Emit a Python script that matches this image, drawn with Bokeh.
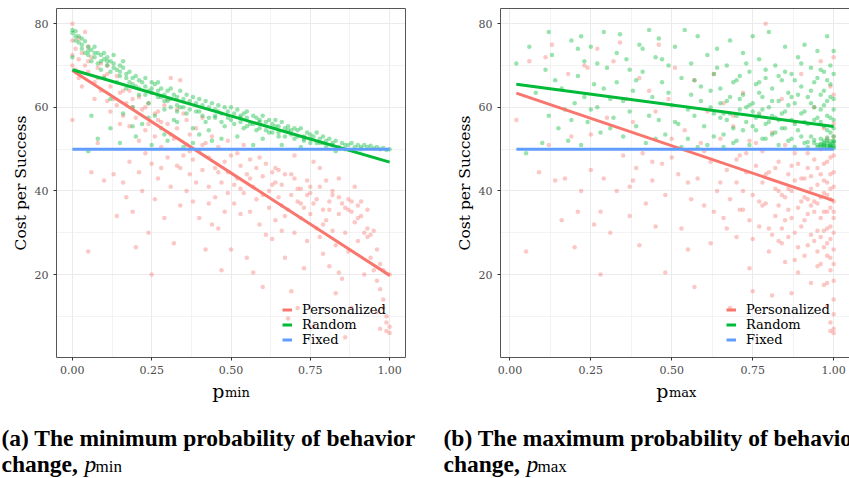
from bokeh.plotting import figure
from bokeh.models import (Range1d, FixedTicker, NumeralTickFormatter, Legend,
                          LegendItem, Label, LinearAxis)
from bokeh.layouts import column, row
from bokeh.embed import file_html
from bokeh.resources import INLINE

# ---------------- data ----------------
series_names = ["Personalized", "Random", "Fixed"]
x_ticks = [0.0, 0.25, 0.5, 0.75, 1.0]
x_minor = [0.125, 0.375, 0.625, 0.875]
y_ticks = [20, 40, 60, 80]
y_minor = [10, 30, 50, 70]

# panel (a): p_min
pmin_rand_x = [
    0.00, 0.00, 0.01, 0.01, 0.00, 0.02, 0.02, 0.03, 0.03, 0.04,
    0.04, 0.05, 0.05, 0.05, 0.06, 0.06, 0.07, 0.07, 0.08, 0.08,
    0.09, 0.09, 0.10, 0.10, 0.10, 0.11, 0.11, 0.12, 0.12, 0.13,
    0.13, 0.14, 0.14, 0.15, 0.15, 0.16, 0.16, 0.17, 0.17, 0.18,
    0.18, 0.19, 0.19, 0.20, 0.20, 0.21, 0.21, 0.22, 0.22, 0.23,
    0.23, 0.24, 0.24, 0.25, 0.25, 0.26, 0.26, 0.27, 0.27, 0.28,
    0.28, 0.29, 0.29, 0.30, 0.30, 0.31, 0.31, 0.32, 0.32, 0.33,
    0.34, 0.34, 0.35, 0.36, 0.36, 0.37, 0.38, 0.38, 0.39, 0.40,
    0.40, 0.41, 0.42, 0.42, 0.43, 0.44, 0.45, 0.45, 0.46, 0.47,
    0.48, 0.48, 0.49, 0.50, 0.50, 0.51, 0.52, 0.53, 0.54, 0.55,
    0.55, 0.56, 0.57, 0.58, 0.58, 0.59, 0.60, 0.61, 0.62, 0.62,
    0.63, 0.64, 0.65, 0.65, 0.66, 0.67, 0.68, 0.69, 0.70, 0.70,
    0.71, 0.72, 0.73, 0.74, 0.75, 0.75, 0.76, 0.77, 0.78, 0.79,
    0.80, 0.80, 0.81, 0.82, 0.83, 0.84, 0.85, 0.86, 0.87, 0.88,
    0.89, 0.90, 0.91, 0.92, 0.93, 0.94, 0.95, 0.96, 0.97, 0.98,
    0.99, 1.00, 0.06, 0.08, 0.12, 0.15, 0.20, 0.25, 0.30, 0.35,
    0.28, 0.33, 0.40, 0.44, 0.52, 0.57, 0.60, 0.66, 0.72, 0.83,
    0.46, 0.53, 0.59, 0.64, 0.68, 0.73, 0.78, 0.82, 0.86, 0.91,
    0.01, 0.03, 0.05, 0.07, 0.09, 0.11, 0.13, 0.15, 0.17, 0.19,
    0.21, 0.23, 0.25, 0.27, 0.29, 0.31, 0.33, 0.35, 0.37, 0.39,
    0.41, 0.43, 0.45, 0.47, 0.49, 0.51, 0.53, 0.55, 0.57, 0.59,
    0.61, 0.63, 0.65, 0.67, 0.69, 0.71, 0.73, 0.75, 0.77, 0.79,
    0.12, 0.16, 0.19, 0.24, 0.29, 0.33, 0.38, 0.43, 0.47, 0.54,
]
pmin_rand_y = [
    78.5, 77.8, 78.2, 76.0, 72.0, 75.5, 77.0, 74.0, 76.5, 73.0,
    75.8, 74.5, 72.5, 49.5, 73.8, 71.0, 74.5, 72.0, 73.0, 70.5,
    72.5, 69.0, 73.0, 71.5, 67.0, 72.0, 70.0, 71.0, 68.5, 70.5,
    72.5, 69.0, 66.0, 70.0, 67.5, 69.5, 71.0, 68.0, 64.5, 68.5,
    66.0, 67.0, 60.0, 67.5, 65.0, 66.5, 63.0, 66.0, 56.0, 65.0,
    67.0, 64.0, 61.0, 66.0, 63.5, 65.5, 58.0, 64.0, 66.0, 62.5,
    64.5, 63.0, 59.5, 64.0, 61.5, 62.0, 64.5, 63.0, 57.0, 62.5,
    64.0, 60.0, 62.0, 63.0, 58.5, 61.5, 62.5, 55.0, 61.0, 62.0,
    59.0, 60.5, 61.5, 56.5, 60.0, 61.0, 59.5, 57.5, 60.5, 58.5,
    60.0, 55.5, 59.0, 60.0, 57.0, 58.5, 59.5, 56.5, 58.5, 57.5,
    59.0, 56.0, 58.0, 57.5, 54.5, 56.5, 58.0, 56.5, 57.0, 54.0,
    56.0, 57.0, 55.5, 53.0, 56.5, 55.0, 55.5, 53.5, 55.0, 52.5,
    54.5, 55.0, 53.0, 54.0, 53.5, 51.5, 53.0, 54.0, 52.5, 53.0,
    52.0, 50.5, 52.5, 51.5, 52.0, 50.5, 51.5, 50.0, 51.0, 51.5,
    50.5, 51.0, 50.0, 51.0, 50.5, 50.8, 50.2, 50.5, 50.0, 50.3,
    49.8, 50.0, 58.0, 52.5, 55.0, 51.5, 53.0, 51.0, 52.0, 50.5,
    55.0, 56.5, 53.5, 52.0, 53.0, 51.0, 52.5, 51.0, 50.5, 49.5,
    59.0, 58.0, 57.0, 55.5, 54.5, 52.5, 51.5, 51.0, 51.0, 50.5,
    77.0, 75.0, 73.5, 73.0, 71.0, 71.0, 69.5, 68.5, 67.0, 65.5,
    64.5, 63.0, 64.5, 62.5, 61.5, 60.0, 60.5, 60.0, 59.5, 59.0,
    58.0, 57.5, 58.0, 56.5, 57.5, 56.0, 57.5, 55.5, 56.0, 55.0,
    54.5, 54.0, 54.0, 53.0, 54.5, 53.0, 52.0, 52.5, 51.5, 51.5,
    62.0, 58.5, 55.5, 57.5, 53.5, 59.0, 51.5, 54.5, 52.5, 55.0,
]
pmin_pers_x = [
    0.00, 0.00, 0.00, 0.00, 0.00, 0.01, 0.01, 0.02, 0.02, 0.03,
    0.03, 0.04, 0.05, 0.05, 0.06, 0.06, 0.07, 0.07, 0.08, 0.08,
    0.09, 0.10, 0.10, 0.11, 0.12, 0.12, 0.13, 0.13, 0.14, 0.14,
    0.15, 0.15, 0.16, 0.16, 0.17, 0.17, 0.18, 0.18, 0.19, 0.19,
    0.20, 0.20, 0.21, 0.21, 0.22, 0.22, 0.23, 0.23, 0.24, 0.24,
    0.25, 0.25, 0.26, 0.26, 0.27, 0.27, 0.28, 0.28, 0.29, 0.29,
    0.30, 0.30, 0.31, 0.31, 0.32, 0.32, 0.33, 0.33, 0.34, 0.34,
    0.35, 0.35, 0.36, 0.36, 0.37, 0.37, 0.38, 0.38, 0.39, 0.39,
    0.40, 0.40, 0.41, 0.41, 0.42, 0.42, 0.43, 0.43, 0.44, 0.44,
    0.45, 0.45, 0.46, 0.46, 0.47, 0.47, 0.48, 0.48, 0.49, 0.49,
    0.50, 0.50, 0.51, 0.51, 0.52, 0.52, 0.53, 0.53, 0.54, 0.54,
    0.55, 0.55, 0.56, 0.56, 0.57, 0.57, 0.58, 0.58, 0.59, 0.59,
    0.60, 0.60, 0.61, 0.61, 0.62, 0.62, 0.63, 0.63, 0.64, 0.64,
    0.65, 0.65, 0.66, 0.66, 0.67, 0.67, 0.68, 0.68, 0.69, 0.69,
    0.70, 0.70, 0.71, 0.71, 0.72, 0.72, 0.73, 0.73, 0.74, 0.74,
    0.75, 0.75, 0.76, 0.76, 0.77, 0.77, 0.78, 0.78, 0.79, 0.79,
    0.80, 0.80, 0.81, 0.81, 0.82, 0.82, 0.83, 0.83, 0.84, 0.84,
    0.85, 0.85, 0.86, 0.86, 0.87, 0.87, 0.88, 0.88, 0.89, 0.89,
    0.90, 0.90, 0.91, 0.91, 0.92, 0.92, 0.93, 0.93, 0.94, 0.94,
    0.95, 0.95, 0.96, 0.96, 0.97, 0.97, 0.98, 0.98, 0.99, 0.99,
    1.00, 1.00, 0.99, 1.00, 0.98, 0.97, 0.96, 0.84, 0.76, 0.70,
    0.02, 0.04, 0.05, 0.09, 0.11, 0.14, 0.18, 0.21, 0.24, 0.27,
    0.60, 0.63, 0.66, 0.69, 0.72, 0.75, 0.78, 0.81, 0.84, 0.87,
    0.90, 0.93, 0.88, 0.86, 0.82, 0.79, 0.74, 0.71, 0.67, 0.64,
    0.53, 0.56, 0.49, 0.46, 0.43, 0.41, 0.37, 0.34, 0.31, 0.28,
    0.05, 0.08, 0.11, 0.16, 0.19, 0.23, 0.26, 0.30, 0.33, 0.36,
]
pmin_pers_y = [
    80.0, 76.0, 72.5, 70.0, 57.0, 74.0, 69.0, 71.5, 67.0, 73.0,
    65.0, 70.0, 68.5, 25.5, 72.0, 44.5, 66.0, 62.0, 69.5, 51.5,
    64.0, 67.5, 42.5, 61.5, 65.0, 59.0, 62.0, 44.0, 60.5, 34.0,
    63.5, 56.0, 58.0, 42.0, 61.0, 38.5, 55.5, 47.0, 60.0, 35.0,
    57.5, 26.5, 52.0, 44.5, 59.5, 40.0, 54.5, 49.0, 56.0, 30.0,
    20.0, 46.5, 53.0, 38.0, 57.0, 43.0, 50.5, 45.5, 60.5, 33.5,
    62.0, 48.0, 67.0, 41.0, 52.5, 27.5, 55.0, 46.0, 66.5, 36.5,
    58.5, 48.5, 40.0, 51.0, 44.0, 53.5, 47.5, 37.5, 55.0, 42.0,
    49.5, 33.5, 57.5, 45.0, 51.5, 26.0, 41.0, 48.0, 32.0, 53.0,
    45.5, 38.5, 31.0, 50.5, 42.0, 21.0, 47.0, 35.0, 52.0, 44.5,
    26.0, 48.5, 41.5, 37.0, 49.0, 43.0, 34.5, 46.0, 39.5, 51.0,
    24.0, 44.0, 35.0, 47.5, 20.5, 41.0, 38.0, 45.5, 32.0, 48.0,
    43.5, 17.0, 29.5, 46.5, 40.0, 36.0, 44.5, 28.5, 42.0, 33.0,
    45.0, 38.5, 30.5, 41.5, 24.0, 44.0, 35.5, 9.5, 39.0, 16.0,
    43.0, 30.0, 37.5, 12.0, 40.5, 33.5, 36.0, 21.5, 39.0, 28.0,
    41.0, 34.5, 37.0, 7.5, 31.0, 38.0, 29.0, 45.5, 35.5, 25.0,
    42.5, 33.0, 22.0, 37.5, 30.5, 40.0, 15.5, 27.0, 34.5, 20.5,
    37.0, 19.0, 30.0, 5.0, 38.0, 25.5, 35.0, 12.0, 41.0, 32.5,
    36.5, 28.0, 37.5, 34.0, 30.0, 20.0, 31.0, 35.5, 29.5, 24.0,
    30.5, 21.0, 26.0, 18.5, 22.5, 16.5, 14.0, 21.0, 8.5, 6.5,
    7.5, 6.0, 10.0, 20.0, 12.0, 7.0, 11.0, 43.0, 47.0, 48.5,
    76.5, 78.0, 71.0, 70.5, 68.0, 67.5, 64.0, 62.5, 61.0, 59.0,
    39.0, 41.5, 36.5, 44.0, 37.0, 39.5, 41.0, 35.5, 38.5, 35.5,
    33.5, 29.0, 37.5, 36.0, 39.0, 32.0, 42.5, 40.5, 34.0, 45.5,
    40.5, 43.0, 39.5, 44.5, 37.0, 51.0, 49.5, 45.5, 53.5, 56.5,
    74.5, 67.0, 70.0, 64.0, 62.0, 60.0, 58.5, 56.0, 59.5, 57.0,
]
pmin_fit_x = [0.0, 1.0]
pmin_pers_fit = [68.8, 19.8]
pmin_rand_fit = [69.0, 46.9]
pmin_fixed_fit = [50.0, 50.0]

# panel (b): p_max
pmax_rand_x = [
    0.02, 0.05, 0.06, 0.08, 0.10, 0.11, 0.12, 0.12, 0.13, 0.15,
    0.16, 0.18, 0.19, 0.20, 0.21, 0.22, 0.22, 0.23, 0.24, 0.25,
    0.26, 0.27, 0.28, 0.29, 0.30, 0.31, 0.32, 0.33, 0.34, 0.35,
    0.36, 0.37, 0.38, 0.39, 0.40, 0.41, 0.42, 0.43, 0.44, 0.45,
    0.46, 0.46, 0.47, 0.48, 0.49, 0.50, 0.51, 0.52, 0.53, 0.54,
    0.55, 0.56, 0.56, 0.57, 0.58, 0.58, 0.59, 0.60, 0.61, 0.62,
    0.63, 0.63, 0.64, 0.65, 0.65, 0.66, 0.67, 0.67, 0.68, 0.69,
    0.70, 0.70, 0.71, 0.72, 0.72, 0.73, 0.74, 0.74, 0.75, 0.75,
    0.76, 0.76, 0.77, 0.77, 0.78, 0.78, 0.79, 0.79, 0.80, 0.80,
    0.81, 0.81, 0.82, 0.82, 0.83, 0.83, 0.84, 0.84, 0.85, 0.85,
    0.86, 0.86, 0.87, 0.87, 0.88, 0.88, 0.89, 0.89, 0.90, 0.90,
    0.91, 0.91, 0.92, 0.92, 0.93, 0.93, 0.94, 0.94, 0.95, 0.95,
    0.95, 0.96, 0.96, 0.96, 0.97, 0.97, 0.97, 0.98, 0.98, 0.98,
    0.98, 0.99, 0.99, 0.99, 0.99, 1.00, 1.00, 1.00, 1.00, 1.00,
    1.00, 1.00, 0.99, 0.97, 0.96, 0.94, 0.92, 0.90, 0.88, 0.86,
    0.84, 0.82, 0.80, 0.78, 0.76, 0.74, 0.72, 0.70, 0.68, 0.66,
    0.95, 0.96, 0.97, 0.98, 0.99, 1.00, 1.00, 0.99, 0.98, 0.97,
    0.62, 0.64, 0.66, 0.68, 0.69, 0.71, 0.73, 0.75, 0.77, 0.79,
    0.81, 0.83, 0.85, 0.87, 0.88, 0.90, 0.91, 0.93, 0.94, 0.96,
    0.97, 0.98, 0.99, 1.00, 1.00, 0.99, 0.98, 0.97, 0.96, 0.95,
    0.93, 0.91, 0.89, 0.87, 0.85, 0.83, 0.81, 0.79, 0.77, 0.75,
    0.73, 0.71, 0.69, 0.67, 0.65, 0.63, 0.61, 0.59, 0.57, 0.55,
    0.53, 0.51, 0.49, 0.47, 0.45, 0.43, 0.41, 0.39, 0.37, 0.35,
    0.33, 0.31, 0.29, 0.27, 0.25, 0.23, 0.21, 0.19, 0.17, 0.14,
    0.97, 0.98, 0.99, 1.00, 0.96, 0.98, 0.99, 1.00, 0.94, 0.92,
]
pmax_rand_y = [
    70.5, 49.0, 74.5, 63.5, 51.5, 69.0, 78.0, 58.0, 72.5, 55.0,
    64.5, 52.0, 76.0, 61.0, 67.5, 51.0, 77.0, 71.0, 56.5, 74.5,
    65.5, 60.0, 54.0, 78.0, 69.5, 62.0, 57.5, 66.0, 77.5, 53.0,
    71.5, 59.0, 64.0, 55.5, 75.0, 68.5, 51.5, 78.5, 62.5, 72.0,
    57.0, 76.5, 66.0, 53.5, 70.0, 60.5, 74.5, 56.0, 67.0, 78.5,
    52.5, 63.0, 70.5, 58.0, 77.0, 50.5, 65.0, 55.5, 72.5, 60.0,
    68.0, 53.0, 74.0, 57.5, 64.5, 50.5, 70.0, 61.5, 76.0, 55.0,
    66.5, 52.0, 59.5, 73.0, 63.0, 56.5, 68.5, 51.0, 61.0, 77.0,
    54.5, 65.5, 58.5, 71.5, 52.5, 62.5, 67.0, 56.0, 78.0, 60.0,
    53.5, 64.5, 57.5, 70.0, 51.0, 61.5, 66.5, 55.0, 74.5, 59.0,
    63.5, 52.0, 68.0, 57.0, 50.5, 61.0, 72.0, 54.5, 65.0, 58.5,
    75.0, 51.5, 62.5, 56.0, 69.5, 53.0, 60.0, 66.0, 50.5, 57.5,
    73.5, 52.5, 63.0, 51.0, 68.5, 55.5, 50.5, 61.5, 52.0, 77.0,
    58.0, 51.0, 65.5, 54.0, 50.3, 62.0, 51.5, 57.0, 73.5, 50.5,
    53.0, 59.5, 70.0, 52.0, 56.5, 51.5, 50.5, 53.0, 56.0, 60.5,
    58.5, 54.0, 56.5, 59.5, 57.5, 60.5, 54.5, 58.0, 62.5, 58.5,
    51.0, 50.5, 51.5, 50.8, 51.2, 50.2, 52.0, 50.7, 51.5, 50.9,
    64.0, 69.5, 53.5, 58.5, 66.0, 62.0, 70.5, 55.5, 63.5, 69.0,
    58.0, 67.5, 55.0, 62.5, 66.5, 70.5, 59.0, 64.0, 57.0, 69.0,
    60.5, 66.5, 57.5, 68.0, 55.0, 62.5, 54.5, 64.0, 59.5, 67.0,
    61.0, 56.5, 63.0, 52.5, 68.5, 57.0, 61.5, 52.5, 66.0, 59.0,
    60.0, 67.5, 51.5, 57.0, 61.0, 58.5, 51.0, 61.5, 66.5, 59.5,
    50.5, 56.5, 63.5, 71.5, 52.5, 58.0, 74.0, 66.5, 69.0, 61.5,
    73.0, 55.0, 64.5, 70.5, 59.5, 62.5, 74.0, 57.0, 59.5, 66.5,
    51.0, 50.4, 50.6, 51.8, 51.3, 52.8, 51.9, 50.8, 52.2, 51.7,
]
pmax_pers_x = [
    0.02, 0.05, 0.06, 0.09, 0.11, 0.12, 0.13, 0.14, 0.16, 0.17,
    0.18, 0.19, 0.20, 0.21, 0.22, 0.23, 0.24, 0.25, 0.25, 0.26,
    0.27, 0.28, 0.28, 0.29, 0.30, 0.31, 0.32, 0.33, 0.34, 0.35,
    0.36, 0.37, 0.37, 0.38, 0.39, 0.40, 0.40, 0.41, 0.42, 0.43,
    0.44, 0.45, 0.45, 0.46, 0.47, 0.48, 0.48, 0.49, 0.50, 0.51,
    0.52, 0.53, 0.54, 0.55, 0.56, 0.57, 0.57, 0.58, 0.59, 0.60,
    0.61, 0.62, 0.62, 0.63, 0.64, 0.65, 0.66, 0.66, 0.67, 0.68,
    0.68, 0.69, 0.70, 0.70, 0.71, 0.72, 0.72, 0.73, 0.74, 0.74,
    0.75, 0.75, 0.76, 0.77, 0.77, 0.78, 0.78, 0.79, 0.79, 0.80,
    0.80, 0.81, 0.81, 0.82, 0.82, 0.83, 0.83, 0.84, 0.84, 0.85,
    0.85, 0.86, 0.86, 0.87, 0.87, 0.88, 0.88, 0.89, 0.89, 0.90,
    0.90, 0.91, 0.91, 0.92, 0.92, 0.93, 0.93, 0.94, 0.94, 0.95,
    0.95, 0.95, 0.96, 0.96, 0.96, 0.97, 0.97, 0.97, 0.97, 0.98,
    0.98, 0.98, 0.98, 0.98, 0.99, 0.99, 0.99, 0.99, 0.99, 0.99,
    1.00, 1.00, 1.00, 1.00, 1.00, 1.00, 1.00, 1.00, 1.00, 1.00,
    1.00, 1.00, 0.99, 0.99, 0.98, 0.97, 0.96, 0.95, 0.94, 0.93,
    0.92, 0.91, 0.90, 0.89, 0.88, 0.87, 0.86, 0.85, 0.84, 0.83,
    0.70, 0.72, 0.74, 0.76, 0.78, 0.80, 0.82, 0.84, 0.86, 0.88,
    0.90, 0.92, 0.94, 0.96, 0.98, 1.00, 0.99, 0.97, 0.95, 0.93,
    0.91, 0.89, 0.87, 0.85, 0.83, 0.81, 0.79, 0.77, 0.75, 0.73,
    0.98, 0.99, 1.00, 1.00, 0.97, 0.96, 0.99, 1.00, 0.98, 0.95,
    0.60, 0.63, 0.65, 0.67, 0.69, 0.71, 0.55, 0.50, 0.44, 0.38,
    0.92, 0.94, 0.96, 0.97, 0.98, 0.99, 1.00, 1.00, 0.93, 0.88,
]
pmax_pers_y = [
    57.0, 25.5, 71.0, 44.5, 72.0, 51.0, 75.0, 42.5, 33.0, 43.0,
    68.0, 53.0, 26.5, 35.0, 40.0, 70.0, 69.5, 45.0, 53.5, 32.0,
    74.0, 20.0, 35.0, 43.0, 57.5, 30.0, 71.0, 40.0, 75.5, 48.5,
    62.0, 34.0, 41.0, 56.5, 45.5, 67.0, 27.0, 49.0, 37.0, 64.0,
    42.5, 59.0, 31.5, 75.0, 46.5, 39.0, 20.5, 62.0, 48.0, 69.5,
    44.0, 31.0, 54.5, 26.0, 38.0, 17.0, 66.5, 43.0, 51.5, 36.5,
    59.0, 27.5, 47.0, 68.0, 40.0, 52.5, 33.5, 61.0, 45.0, 38.0,
    12.0, 55.5, 42.0, 29.0, 48.5, 63.5, 35.5, 44.5, 21.5, 52.0,
    39.0, 16.0, 46.0, 58.0, 31.5, 42.0, 49.5, 37.0, 80.0, 25.5,
    44.5, 54.0, 15.0, 40.5, 34.0, 47.0, 28.0, 62.0, 39.0, 23.0,
    51.0, 35.5, 44.0, 15.5, 40.0, 30.0, 56.5, 46.5, 20.5, 37.5,
    68.0, 33.0, 43.0, 27.0, 49.0, 18.0, 40.5, 35.0, 60.0, 30.5,
    45.5, 22.0, 38.5, 71.0, 29.0, 42.5, 17.5, 35.0, 55.0, 31.0,
    24.5, 47.0, 39.0, 12.5, 36.0, 28.5, 44.0, 21.0, 65.0, 8.5,
    7.0, 6.0, 33.5, 41.0, 26.0, 48.5, 18.5, 37.5, 56.0, 72.0,
    14.0, 30.0, 6.5, 40.5, 35.0, 26.5, 33.5, 37.0, 28.0, 36.5,
    38.0, 24.5, 31.5, 36.0, 42.5, 33.5, 29.0, 38.5, 31.0, 36.5,
    47.5, 40.0, 33.0, 51.5, 36.5, 31.0, 45.5, 27.5, 40.5, 23.5,
    43.0, 34.5, 47.5, 22.5, 42.0, 44.5, 31.5, 39.5, 25.5, 29.5,
    38.5, 26.5, 46.0, 33.0, 40.0, 29.5, 44.0, 37.5, 28.5, 49.0,
    18.0, 24.0, 22.5, 10.5, 30.5, 44.0, 38.0, 35.0, 27.5, 41.5,
    49.5, 35.0, 42.0, 31.0, 58.0, 35.5, 42.0, 52.5, 47.0, 42.5,
    45.5, 37.5, 50.0, 46.5, 52.5, 48.0, 53.0, 63.0, 43.5, 49.0,
]
pmax_fit_x = [0.02, 1.0]
pmax_pers_fit = [63.4, 37.7]
pmax_rand_fit = [65.5, 55.4]
pmax_fixed_fit = [50.0, 50.0]

# ---------------- style ----------------
RED, GREEN, BLUE = "#F8766D", "#00BA38", "#619CFF"
SERIF = "DejaVu Serif"
CAP = "Liberation Serif"
BORDER = "#555555"
GRID = "#EBEBEB"


def panel(width, b_left, b_right, xr, px, py, rx, ry, fx, fp, fr, ff,
          right_border):
    p = figure(width=width, height=378, x_range=Range1d(*xr),
               y_range=Range1d(0.15, 83.65), output_backend="svg",
               toolbar_location=None, min_border_left=b_left,
               min_border_right=b_right, min_border_top=8,
               min_border_bottom=21, outline_line_color=None,
               background_fill_color="white", border_fill_color="white")
    xt = FixedTicker(ticks=x_ticks, minor_ticks=x_minor)
    yt = FixedTicker(ticks=y_ticks, minor_ticks=y_minor)
    p.xaxis.ticker = xt
    p.yaxis.ticker = yt
    p.xgrid.ticker = xt
    p.ygrid.ticker = yt
    p.xaxis.formatter = NumeralTickFormatter(format="0.00")
    for g in (p.xgrid, p.ygrid):
        g.grid_line_color = GRID
        g.grid_line_width = 1
        g.minor_grid_line_color = GRID
        g.minor_grid_line_width = 0.6
    for ax in (p.xaxis, p.yaxis):
        ax.axis_line_color = BORDER
        ax.axis_line_width = 1
        ax.major_tick_line_color = "#333333"
        ax.major_tick_out = 3
        ax.major_tick_in = 0
        ax.minor_tick_line_color = None
        ax.major_label_text_font = SERIF
        ax.major_label_text_font_size = "11px"
        ax.major_label_text_color = "#4D4D4D"
        ax.major_label_standoff = 4
    p.yaxis.axis_label = "Cost per Success"
    p.yaxis.axis_label_text_font = SERIF
    p.yaxis.axis_label_text_font_size = "15.5px"
    p.yaxis.axis_label_text_font_style = "normal"
    p.yaxis.axis_label_text_color = "black"
    p.yaxis.axis_label_standoff = 2

    sides = ["above"] + (["right"] if right_border else [])
    for side in sides:
        b = LinearAxis(ticker=FixedTicker(ticks=[]), axis_line_color=BORDER,
                       axis_line_width=1, major_tick_out=0, major_tick_in=0,
                       minor_tick_out=0, minor_tick_in=0,
                       major_label_standoff=0,
                       major_label_text_font_size="1px")
        p.add_layout(b, side)

    p.scatter(px, py, size=4.5, fill_color=RED, fill_alpha=0.4,
              line_color=None)
    p.scatter(rx, ry, size=4.5, fill_color=GREEN, fill_alpha=0.4,
              line_color=None)
    r1 = p.line(fx, fp, line_color=RED, line_width=3)
    r2 = p.line(fx, fr, line_color=GREEN, line_width=3)
    r3 = p.line(fx, ff, line_color=BLUE, line_width=3)

    leg = Legend(items=[LegendItem(label=n, renderers=[r])
                        for n, r in zip(series_names, (r1, r2, r3))],
                 location=(226, 10), background_fill_alpha=0,
                 border_line_color=None, label_text_font=SERIF,
                 label_text_font_size="13px", label_text_color="black",
                 glyph_width=10, glyph_height=13, label_height=13,
                 label_standoff=10, spacing=0, padding=2, margin=0)
    p.add_layout(leg)
    return p


f1 = panel(420, 56, 15, (-0.05, 1.05),
           pmin_pers_x, pmin_pers_y, pmin_rand_x, pmin_rand_y,
           pmin_fit_x, pmin_pers_fit, pmin_rand_fit, pmin_fixed_fit, True)
f2 = panel(429, 80, 0, (-0.029, 1.049),
           pmax_pers_x, pmax_pers_y, pmax_rand_x, pmax_rand_y,
           pmax_fit_x, pmax_pers_fit, pmax_rand_fit, pmax_fixed_fit, False)

# bottom strip: x-axis titles and sub-figure captions
cap = figure(width=849, height=100, x_range=Range1d(0, 849),
             y_range=Range1d(100, 0), output_backend="svg",
             toolbar_location=None, min_border=0, outline_line_color=None,
             x_axis_type=None, y_axis_type=None)
cap.grid.visible = False


def lab(x, y, text, font, style, size, align="left"):
    cap.add_layout(Label(x=x, y=y, text=text, text_font=font,
                         text_font_style=style, text_font_size=size,
                         text_align=align, text_baseline="alphabetic",
                         text_color="black"))


# axis titles p_min / p_max
for xp, sub in ((224, "min"), (668, "max")):
    lab(xp, 12, "p", SERIF, "normal", "19px", "right")
    lab(xp + 0.5, 13.5, sub, SERIF, "normal", "13px", "left")

captions = [("(a) The minimum probability of behavior", "min", 1),
            ("(b) The maximum probability of behavior", "max", 443)]
for line1, sub, x0 in captions:
    lab(x0, 59, line1, CAP, "bold", "23.5px")
    lab(x0, 85.5, "change,", CAP, "bold", "23.5px")
    lab(x0 + 83, 85.5, "p", CAP, "italic", "23.5px")
    lab(x0 + 94, 87.5, sub, CAP, "normal", "17px")

layout = column(row(f1, f2), cap)
open("out.html", "w").write(file_html(layout, INLINE))
